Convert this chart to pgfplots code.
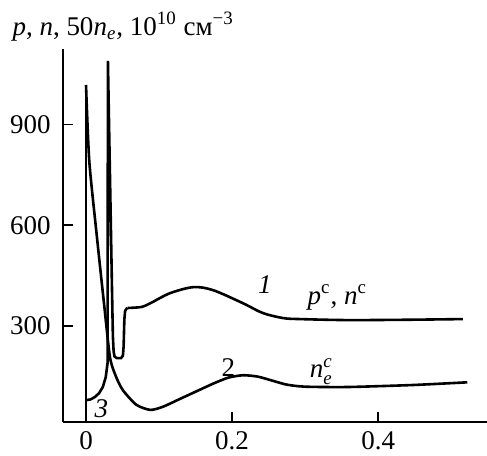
\documentclass[border=0pt]{standalone}
\usepackage{fontspec}
\setmainfont{Liberation Serif}
\usepackage{amsmath}
\usepackage{pgfplots}
\pgfplotsset{compat=1.18}
\begin{document}
\fontsize{13.5}{16}\selectfont
\begin{tikzpicture}
\begin{axis}[
    scale only axis,
    width=212pt, height=186.5pt,
    xmin=-0.0315, xmax=0.549,
    ymin=15, ymax=1124,
    axis lines*=left,
    axis line style={line width=0.9pt},
    xtick={0,0.2,0.4},
    ytick={300,600,900},
    xticklabels={0,0.2,0.4},
    tick align=inside,
    major tick length=5pt,
    tick style={line width=0.8pt, black},
    /pgf/number format/assume math mode=true,
    every tick label/.append style={font=\fontsize{13.5}{16}\selectfont},
    yticklabel style={xshift=-1.5pt},
    clip=false,
]
% curve 2, n_e^c: vertical rise at x=0 and decay
\addplot[black, line width=1.3pt] coordinates {(0,15) (0,1017)};
\addplot[black, line width=1.3pt, smooth, tension=0.4] coordinates {
    (0,1017) (0.0045,790) (0.0147,570) (0.025,360) (0.033,205)
    (0.042,145) (0.051,108) (0.069,66) (0.088,51) (0.105,60)
    (0.129,84) (0.152,107) (0.174,129) (0.195,147) (0.215,154)
    (0.235,150) (0.255,138) (0.275,126) (0.30,120) (0.358,119)
    (0.448,125) (0.522,133)
};
% curve 3 rising into the spike, then curve 1
\addplot[black, line width=1.3pt] coordinates {
    (0,80) (0.006,82) (0.012,89) (0.018,101) (0.023,119) (0.027,148)
    (0.0295,190) (0.0300,1089) (0.0356,407) (0.0368,270) (0.0378,225)
    (0.039,210) (0.042,205) (0.048,205) (0.0505,212) (0.0515,240)
    (0.0525,320) (0.0535,345) (0.0555,352) (0.057,354)
};
\addplot[black, line width=1.3pt, smooth, tension=0.5] coordinates {
    (0.057,354) (0.076,357) (0.088,368) (0.115,398) (0.147,416)
    (0.174,407) (0.215,368) (0.242,339) (0.270,324) (0.293,321)
    (0.358,318) (0.440,319) (0.516,321)
};
\node[font=\itshape] at (axis cs:0.245,425) {1};
\node at (axis cs:0.195,178) {2};
\node[font=\itshape] at (axis cs:0.021,56) {3};
\node at (axis cs:0.344,386) {\textit{p}\textsuperscript{c}, \textit{n}\textsuperscript{c}};
\node at (axis cs:0.322,165) {\textit{n}$^{\textit{c}}_{\textit{e}}$};
\node[anchor=base west, inner sep=0pt] at (rel axis cs:-0.120,1.0375)
    {\textit{p}, \textit{n}, 50\textit{n}$_{\textit{e}}$, 10\textsuperscript{10} см\textsuperscript{−3}};
\coordinate (bl) at (rel axis cs:-0.1486,-0.0885);
\coordinate (tr) at (rel axis cs:1,1.1314);
\end{axis}
\pgfresetboundingbox
\path (bl) rectangle (tr);
\end{tikzpicture}
\end{document}
